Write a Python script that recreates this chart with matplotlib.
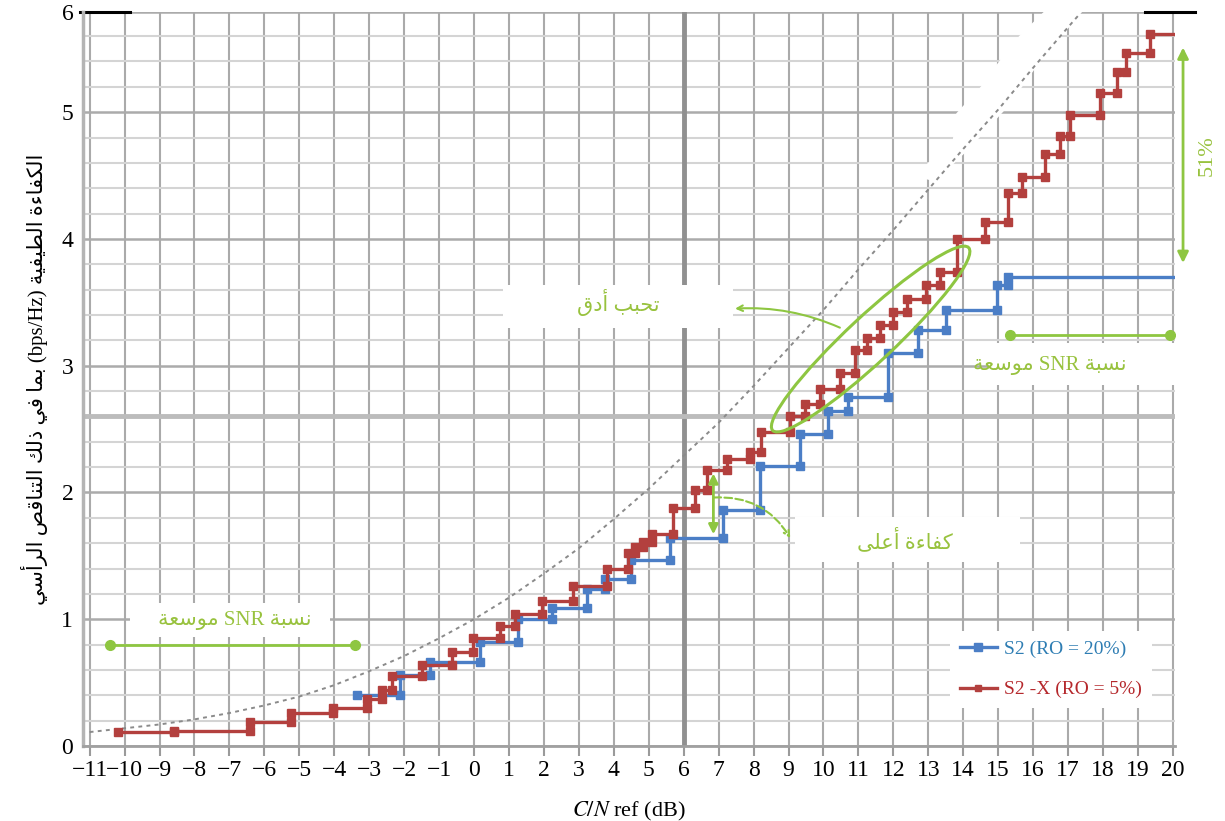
import matplotlib

matplotlib.use("Agg")
import matplotlib.pyplot as plt
from matplotlib import transforms
from matplotlib.lines import Line2D
from matplotlib.patches import Ellipse, Polygon, Rectangle
from matplotlib.ticker import MultipleLocator

plt.rcParams.update(
    {
        "font.family": ["Liberation Serif", "DejaVu Sans"],
        "mathtext.fontset": "stix",
    }
)

# ---- values ----
# DVB-S2, roll-off 20 %: C/N threshold (dB) -> spectral efficiency (bps/Hz)
s2_cn = [-3.36, -2.12, -1.26, 0.17, 1.25, 2.22, 3.22, 3.75, 4.50, 5.62,
         7.13, 8.18, 9.33, 10.14, 10.71, 11.85, 12.71, 13.52, 14.96, 15.29]
s2_eff = [0.40, 0.56, 0.665, 0.82, 1.00, 1.09, 1.24, 1.32, 1.47, 1.64,
          1.86, 2.21, 2.46, 2.64, 2.75, 3.10, 3.28, 3.44, 3.64, 3.70]

# DVB-S2X, roll-off 5 %
s2x_cn = [-10.2, -8.6, -6.4, -5.24, -4.03, -3.07, -2.64, -2.36, -1.50, -0.64,
          -0.02, 0.74, 1.17, 1.94, 2.84, 3.80, 4.42, 4.61, 4.84, 5.08,
          5.70, 6.32, 6.66, 7.23, 7.90, 8.20, 9.04, 9.47, 9.90, 10.47,
          10.90, 11.25, 11.62, 12.00, 12.40, 12.94, 13.33, 13.81, 14.62, 15.29,
          15.67, 16.34, 16.77, 17.05, 17.91, 18.39, 18.67, 19.34]
s2x_eff = [0.11, 0.12, 0.19, 0.26, 0.30, 0.37, 0.44, 0.55, 0.64, 0.74,
           0.85, 0.95, 1.04, 1.14, 1.26, 1.40, 1.52, 1.57, 1.61, 1.67,
           1.88, 2.02, 2.18, 2.26, 2.32, 2.48, 2.60, 2.70, 2.82, 2.94,
           3.12, 3.22, 3.32, 3.42, 3.53, 3.64, 3.74, 4.00, 4.13, 4.36,
           4.49, 4.67, 4.81, 4.98, 5.15, 5.32, 5.47, 5.62]
cn_end = 20.0

# dotted limit curve
limit_cn = [-11, -10, -9, -8, -7, -6, -5, -4, -3, -2, -1, 0, 1, 2, 3, 4, 5,
            6, 7, 8, 9, 10, 11, 12, 13, 14, 15, 16, 17, 17.35]
limit_eff = [0.11, 0.14, 0.17, 0.21, 0.26, 0.32, 0.39, 0.48, 0.59, 0.71, 0.85,
             1.00, 1.17, 1.36, 1.56, 1.79, 2.03, 2.29, 2.55, 2.84, 3.14, 3.44,
             3.76, 4.07, 4.39, 4.71, 5.02, 5.35, 5.67, 5.78]

x_ticks = list(range(-11, 21))
y_ticks = [0, 1, 2, 3, 4, 5, 5.79]
y_tick_labels = ["0", "1", "2", "3", "4", "5", "6"]

series_labels = ["S2 (RO = 20%)", "S2 -X (RO = 5%)"]
y_label = "الكفاءة الطيفية (bps/Hz) بما في ذلك التناقص الرأسي"
x_label = r"$C/N$ ref (dB)"
txt_finer = "تحبب أدق"
txt_higher = "كفاءة أعلى"
txt_snr = "نسبة SNR موسعة"
txt_gain = "51%"

BLUE = "#4b7ec6"
RED = "#b3403e"
GREEN = "#8ec641"
GREEN_TXT = "#98c23e"

# ---- minimal Arabic shaping (matplotlib has no RTL / joining support) ----
AR = {
    "ء": (0xFE80, 1), "آ": (0xFE81, 2), "أ": (0xFE83, 2), "ؤ": (0xFE85, 2),
    "إ": (0xFE87, 2), "ئ": (0xFE89, 4), "ا": (0xFE8D, 2), "ب": (0xFE8F, 4),
    "ة": (0xFE93, 2), "ت": (0xFE95, 4), "ث": (0xFE99, 4), "ج": (0xFE9D, 4),
    "ح": (0xFEA1, 4), "خ": (0xFEA5, 4), "د": (0xFEA9, 2), "ذ": (0xFEAB, 2),
    "ر": (0xFEAD, 2), "ز": (0xFEAF, 2), "س": (0xFEB1, 4), "ش": (0xFEB5, 4),
    "ص": (0xFEB9, 4), "ض": (0xFEBD, 4), "ط": (0xFEC1, 4), "ظ": (0xFEC5, 4),
    "ع": (0xFEC9, 4), "غ": (0xFECD, 4), "ف": (0xFED1, 4), "ق": (0xFED5, 4),
    "ك": (0xFED9, 4), "ل": (0xFEDD, 4), "م": (0xFEE1, 4), "ن": (0xFEE5, 4),
    "ه": (0xFEE9, 4), "و": (0xFEED, 2), "ى": (0xFEEF, 2), "ي": (0xFEF1, 4),
}


def shape_word(word):
    if not any(c in AR for c in word):
        return word
    out = []
    for i, ch in enumerate(word):
        if ch not in AR:
            out.append(ch)
            continue
        base, n = AR[ch]
        prev = word[i - 1] if i > 0 else ""
        nxt = word[i + 1] if i + 1 < len(word) else ""
        jp = prev in AR and AR[prev][1] == 4
        jn = n == 4 and nxt in AR and AR[nxt][1] > 1
        if jp and jn:
            off = 3
        elif jp:
            off = 1 if n > 1 else 0
        elif jn:
            off = 2
        else:
            off = 0
        out.append(chr(base + off))
    return "".join(reversed(out))


def rtl(text):
    return " ".join(shape_word(w) for w in reversed(text.split(" ")))


def step_vertices(xs, ys, x_end):
    vx, vy = [], []
    for i in range(len(xs)):
        nx = xs[i + 1] if i + 1 < len(xs) else x_end
        vx += [xs[i], nx]
        vy += [ys[i], ys[i]]
    return vx, vy


fig = plt.figure(figsize=(12.25, 8.21), dpi=100)
ax = fig.add_axes([83 / 1225, 75 / 821, 1092 / 1225, 734 / 821])
ax.set_xlim(-11.19, 20.06)
ax.set_ylim(0, 5.79)
ax.set_axisbelow(True)

# grid
ax.set_xticks(x_ticks)
ax.set_yticks(y_ticks)
ax.set_yticklabels(y_tick_labels)
ax.yaxis.set_minor_locator(MultipleLocator(0.2))
ax.grid(which="major", axis="x", color="#aaaaaa", lw=1.5)
ax.grid(which="major", axis="y", color="#ababab", lw=1.8)
ax.grid(which="minor", axis="y", color="#d4d4d4", lw=1.5)
ax.axvline(6, color="#909090", lw=3.5, zorder=0.6)
ax.axhline(2.6, color="#bcbcbc", lw=3.5, zorder=0.6)

for s in ("top", "right"):
    ax.spines[s].set_visible(False)
ax.spines["left"].set_color("#b4b4b4")
ax.spines["left"].set_linewidth(2.5)
ax.spines["bottom"].set_color("#a0a0a0")
ax.spines["bottom"].set_linewidth(2)
ax.tick_params(axis="x", length=7, width=1.5, color="#9a9a9a", pad=3, labelsize=17)
ax.tick_params(axis="y", length=0, pad=7, labelsize=17)
ax.tick_params(which="minor", length=0)

# white label boxes (blanked grid behind the notes)
for x0, x1, y0, y1 in [(0.83, 7.41, 3.30, 3.64), (9.18, 15.62, 1.45, 1.81),
                       (14.7, 20.06, 2.85, 3.18), (-9.84, -4.12, 0.86, 1.13)]:
    ax.add_patch(Rectangle((x0, y0), x1 - x0, y1 - y0, fc="white", ec="none", zorder=1))
# erased patch beside the upper part of the dotted curve
ax.add_patch(Polygon([(12.6, 4.50), (13.7, 4.78), (13.8, 4.99), (14.5, 5.20),
                      (15.0, 5.39), (15.6, 5.60), (16.3, 5.79), (17.4, 5.79),
                      (16.2, 5.40), (15.3, 5.05), (14.2, 4.72), (13.2, 4.45)],
                     fc="white", ec="none", zorder=1))

# curves
ax.plot(limit_cn, limit_eff, color="#8a8a8a", lw=1.4, ls=(0, (2, 2.2)), zorder=2)

bx, by = step_vertices(s2_cn, s2_eff, cn_end)
ax.plot(bx, by, color=BLUE, lw=2.4, marker="s", ms=6,
        markevery=list(range(len(bx) - 1)), zorder=3)
rx, ry = step_vertices(s2x_cn, s2x_eff, cn_end)
ax.plot(rx, ry, color=RED, lw=2.4, marker="s", ms=6,
        markevery=list(range(len(rx) - 1)), zorder=4)

# green annotations
trans = fig.dpi_scale_trans + transforms.ScaledTranslation(11.35, 3.21, ax.transData)
ax.add_patch(Ellipse((0, 0), 2.68, 0.46, angle=43, transform=trans,
                     fill=False, ec=GREEN, lw=2.2, zorder=5))
ax.annotate("", xy=(7.47, 3.45), xytext=(10.47, 3.30),
            arrowprops=dict(arrowstyle="->", color=GREEN, lw=1.5,
                            connectionstyle="arc3,rad=0.12", shrinkA=0, shrinkB=0),
            zorder=5)
ax.annotate("", xy=(6.85, 2.15), xytext=(6.85, 1.67),
            arrowprops=dict(arrowstyle="<|-|>", color=GREEN, lw=2,
                            mutation_scale=14, shrinkA=0, shrinkB=0), zorder=5)
ax.annotate("", xy=(9.05, 1.64), xytext=(6.85, 1.96),
            arrowprops=dict(arrowstyle="->", color=GREEN, lw=1.5, ls="--",
                            connectionstyle="arc3,rad=-0.3", shrinkA=0, shrinkB=0),
            zorder=5)
ax.plot([15.34, 19.91], [3.24, 3.24], color=GREEN, lw=2, marker="o", ms=7, zorder=5)
ax.plot([-10.41, -3.40], [0.80, 0.80], color=GREEN, lw=2, marker="o", ms=7, zorder=5)
ax.annotate("", xy=(20.29, 5.51), xytext=(20.29, 3.81), annotation_clip=False,
            arrowprops=dict(arrowstyle="<|-|>", color=GREEN, lw=2,
                            mutation_scale=16, shrinkA=0, shrinkB=0))
ax.text(20.99, 4.66, txt_gain, rotation=90, color=GREEN_TXT, fontsize=16,
        ha="center", va="center", clip_on=False)

note = dict(color=GREEN_TXT, fontsize=15, ha="center", va="center", zorder=6)
ax.text(4.12, 3.50, rtl(txt_finer), **note)
ax.text(12.33, 1.62, rtl(txt_higher), **note)
ax.text(16.48, 3.00, rtl(txt_snr), **note)
ax.text(-6.84, 0.99, rtl(txt_snr), **note)

# stray top rule pieces seen in the reference
for a, b in [(-0.003, 0.043), (0.9725, 1.0183)]:
    ax.plot([a, b], [1, 1], transform=ax.transAxes, color="black", lw=2.2, clip_on=False)

ax.set_xlabel(x_label, fontsize=16, labelpad=14)
ax.set_ylabel(rtl(y_label), fontsize=15, labelpad=10)

handles = [Line2D([], [], color=BLUE, lw=2.4, marker="s", ms=6),
           Line2D([], [], color=RED, lw=2.4, marker="s", ms=5)]
ax.legend(handles, series_labels, loc="upper left", bbox_to_anchor=(0.785, 0.17),
          frameon=True, facecolor="white", edgecolor="none", framealpha=1,
          fontsize=14, labelcolor=["#2e7db3", "#b5282c"], labelspacing=1.15,
          handlelength=1.9, handletextpad=0.4, numpoints=1, borderpad=0.5)

fig.savefig("out.png", dpi=100)
